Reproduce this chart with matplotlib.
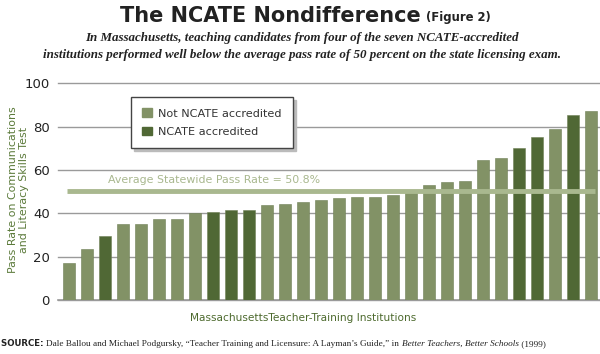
import matplotlib
matplotlib.use("Agg")
import matplotlib.pyplot as plt
from matplotlib.patches import Patch

pass_rates = [17.2, 23.5, 29.5, 34.9, 35.1, 37.2, 37.2, 40.0, 40.8, 41.5,
              41.5, 43.8, 44.2, 45.1, 46.0, 46.9, 47.7, 47.7, 48.5, 50.0,
              53.2, 54.3, 54.9, 64.8, 65.4, 70.0, 75.1, 79.1, 85.4, 87.4]
ncate = [0, 0, 1, 0, 0, 0, 0, 0, 1, 1,
         1, 0, 0, 0, 0, 0, 0, 0, 0, 0,
         0, 0, 0, 0, 0, 1, 1, 0, 1, 0]
average_rate = 50.8
avg_line_y = 50.3
yticks = [0, 20, 40, 60, 80, 100]

LIGHT = "#829266"
DARK = "#506835"
AVG = "#a9b88f"
LABEL = "#5b7a3a"

fig = plt.figure(figsize=(6, 3.54), dpi=100)
ax = fig.add_axes([58/600, 1-300/354, 542/600, (300-83.3)/354])

x = list(range(len(pass_rates)))
colors = [DARK if n else LIGHT for n in ncate]
ax.bar(x, pass_rates, width=0.68, color=colors, edgecolor="#6f8055",
       linewidth=0.4, zorder=3)

ax.set_xlim(-0.62, 29.5)
ax.set_ylim(0, 100)
ax.set_yticks(yticks)
ax.set_xticks([])
ax.yaxis.grid(True, color="#9a9a9a", linewidth=1.0, zorder=0)
for g in ax.get_ygridlines():
    g.set_clip_on(False)
for s in ["top", "right", "left"]:
    ax.spines[s].set_visible(False)
ax.spines["bottom"].set_color("#9a9a9a")
ax.spines["bottom"].set_linewidth(1.2)
ax.tick_params(axis="y", length=0, pad=6, labelsize=9.5, labelcolor="#222222")

# average line
ax.plot([-0.1, 29.2], [avg_line_y, avg_line_y], color=AVG, linewidth=3.5,
        zorder=4, solid_capstyle="butt")
ax.text(8.05, avg_line_y + 2.6, f"Average Statewide Pass Rate = {average_rate}%",
        color=AVG, fontsize=7.9, ha="center", va="bottom", zorder=5)

# legend
handles = [Patch(facecolor=LIGHT, edgecolor=LIGHT, label="Not NCATE accredited"),
           Patch(facecolor=DARK, edgecolor=DARK, label="NCATE accredited")]
leg = ax.legend(handles=handles, loc="upper left",
                bbox_to_anchor=((131-58)/542, (300-97)/216.7),
                frameon=True, fancybox=False, fontsize=8.1, handlelength=0.85,
                handleheight=0.85, borderpad=1.0, labelspacing=0.7,
                handletextpad=0.55, borderaxespad=0,
                shadow={"color": "#bbbbbb", "alpha": 1},
                edgecolor="#444444", framealpha=1)
leg.get_frame().set_linewidth(1.0)
leg.set_zorder(10)
for t in leg.get_texts():
    t.set_color("#333333")

# y label
fig.text(18.5/600, 1-190/354, "Pass Rate on Communications\nand Literacy Skills Test",
         rotation=90, ha="center", va="center", color=LABEL, fontsize=7.9,
         linespacing=1.1)
# x label
fig.text(303/600, 1-318/354, "MassachusettsTeacher-Training Institutions",
         ha="center", va="center", color="#4d6a2e", fontsize=7.6)

# title
fig.text(421/600, 1-16/354, "The NCATE Nondifference", ha="right", va="center",
         fontsize=15, fontweight="bold", color="#222222")
fig.text(426/600, 1-17/354, "(Figure 2)", ha="left", va="center",
         fontsize=8.4, fontweight="bold", color="#222222")

sub = ("In Massachusetts, teaching candidates from four of the seven NCATE-accredited\n"
       "institutions performed well below the average pass rate of 50 percent on the state licensing exam.")
fig.text(302/600, 1-46.5/354, sub, ha="center", va="center", fontsize=9.4,
         fontfamily="Liberation Serif", fontstyle="italic", fontweight="bold",
         color="#222222", linespacing=1.55)

# source line, pieces chained
pieces = [
    ("SOURCE: ", dict(fontsize=6.2, fontweight="bold", fontfamily="DejaVu Sans")),
    ("Dale Ballou and Michael Podgursky, \u201cTeacher Training and Licensure: A Layman\u2019s Guide,\u201d in ",
     dict(fontsize=6.7, fontfamily="Liberation Serif")),
    ("Better Teachers, Better Schools", dict(fontsize=6.7, fontfamily="Liberation Serif", fontstyle="italic")),
    (" (1999)", dict(fontsize=6.7, fontfamily="Liberation Serif")),
]
fig.canvas.draw()
renderer = fig.canvas.get_renderer()
xpos = 1
for txt, kw in pieces:
    t = fig.text(xpos/600, 1-346/354, txt, ha="left", va="baseline",
                 color="#222222", **kw)
    bb = t.get_window_extent(renderer)
    xpos += bb.width

fig.savefig("out.png", dpi=100)
